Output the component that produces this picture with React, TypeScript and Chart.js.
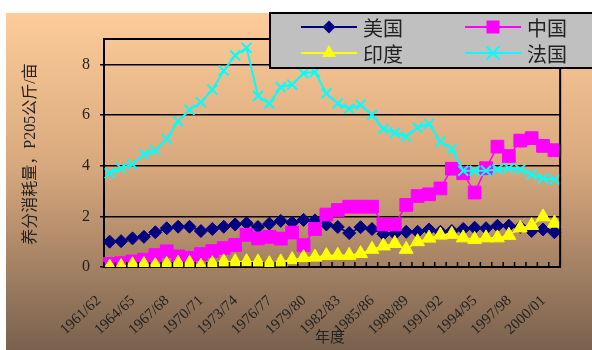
import { useEffect, useRef } from 'react';
import { Chart, registerables } from 'chart.js';

Chart.register(...registerables);

// Crop years on the category axis
const seasons = [
  '1961/62', '1962/63', '1963/64', '1964/65', '1965/66', '1966/67', '1967/68', '1968/69',
  '1969/70', '1970/71', '1971/72', '1972/73', '1973/74', '1974/75', '1975/76', '1976/77',
  '1977/78', '1978/79', '1979/80', '1980/81', '1981/82', '1982/83', '1983/84', '1984/85',
  '1985/86', '1986/87', '1987/88', '1988/89', '1989/90', '1990/91', '1991/92', '1992/93',
  '1993/94', '1994/95', '1995/96', '1996/97', '1997/98', '1998/99', '1999/00', '2000/01',
];

// Phosphate (P2O5) use per mu, by country
const usa = [
  1.0, 1.02, 1.13, 1.19, 1.37, 1.53, 1.59, 1.59, 1.42, 1.5, 1.59, 1.68, 1.73, 1.58, 1.71, 1.82,
  1.75, 1.86, 1.84, 1.68, 1.58, 1.34, 1.57, 1.5, 1.3, 1.31, 1.39, 1.39, 1.48, 1.39, 1.42, 1.5,
  1.55, 1.53, 1.63, 1.63, 1.58, 1.42, 1.48, 1.37,
];
const china = [
  0.12, 0.15, 0.22, 0.29, 0.47, 0.62, 0.42, 0.36, 0.51, 0.63, 0.75, 0.87, 1.27, 1.13, 1.19, 1.12,
  1.36, 0.86, 1.5, 2.07, 2.25, 2.38, 2.38, 2.38, 1.68, 1.68, 2.45, 2.8, 2.87, 3.1, 3.88, 3.7,
  2.94, 3.9, 4.75, 4.38, 4.99, 5.09, 4.78, 4.61,
];
const india = [
  0.0, 0.02, 0.09, 0.1, 0.06, 0.1, 0.15, 0.15, 0.03, 0.13, 0.2, 0.21, 0.21, 0.2, 0.13, 0.2,
  0.29, 0.37, 0.39, 0.45, 0.46, 0.46, 0.53, 0.7, 0.83, 0.93, 0.7, 1.0, 1.14, 1.26, 1.29, 1.15,
  1.09, 1.15, 1.15, 1.25, 1.54, 1.64, 1.98, 1.73,
];
const france = [
  3.7, 3.9, 4.05, 4.45, 4.6, 5.05, 5.75, 6.2, 6.5, 7.0, 7.75, 8.35, 8.65, 6.75, 6.45, 7.1,
  7.2, 7.65, 7.7, 6.85, 6.45, 6.25, 6.4, 6.0, 5.45, 5.3, 5.15, 5.5, 5.65, 4.95, 4.65, 3.8,
  3.8, 3.8, 3.85, 3.9, 3.85, 3.65, 3.5, 3.45,
];

const yTicks = [0, 2, 4, 6, 8];
const yTitle = '养分消耗量，P205公斤/亩';
const xTitle = '年度';

const SERIF = '"Liberation Serif", "Noto Sans CJK SC", serif';
const CJK = '"Noto Sans CJK SC", "Liberation Serif", sans-serif';

const NAVY = '#000080';
const MAGENTA = '#FF00FF';
const YELLOW = '#FFFF00';
const CYAN = '#00FFFF';

type Marker = 'diamond' | 'square' | 'triangle' | 'cross';

function drawMarker(ctx: CanvasRenderingContext2D, kind: Marker, x: number, y: number, color: string) {
  ctx.save();
  ctx.fillStyle = color;
  ctx.strokeStyle = color;
  ctx.beginPath();
  if (kind === 'diamond') {
    const r = 6.5;
    ctx.moveTo(x - r, y);
    ctx.lineTo(x, y - r);
    ctx.lineTo(x + r, y);
    ctx.lineTo(x, y + r);
    ctx.closePath();
    ctx.fill();
  } else if (kind === 'square') {
    const h = 6.5;
    ctx.rect(x - h, y - h, 2 * h, 2 * h);
    ctx.fill();
  } else if (kind === 'triangle') {
    const r = 8;
    ctx.moveTo(x, y - r);
    ctx.lineTo(x + r * 0.866, y + r / 2);
    ctx.lineTo(x - r * 0.866, y + r / 2);
    ctx.closePath();
    ctx.fill();
  } else {
    const r = 6.5;
    ctx.lineWidth = 2;
    ctx.moveTo(x - r, y - r);
    ctx.lineTo(x + r, y + r);
    ctx.moveTo(x + r, y - r);
    ctx.lineTo(x - r, y + r);
    ctx.stroke();
  }
  ctx.restore();
}

const decorations = {
  id: 'decorations',
  beforeDraw(chart: Chart) {
    const { ctx, width, height } = chart;
    ctx.save();
    ctx.fillStyle = '#ffffff';
    ctx.fillRect(0, 0, width, height);
    const g = ctx.createLinearGradient(0, 13, 0, height);
    g.addColorStop(0, '#FDCC99');
    g.addColorStop(0.45, '#D9A97E');
    g.addColorStop(1, '#79614E');
    ctx.fillStyle = g;
    ctx.fillRect(6, 13, width - 6, height - 13);
    ctx.restore();
  },
  afterDraw(chart: Chart) {
    const { ctx, chartArea } = chart;
    const { left, right, top, bottom } = chartArea;
    const xs: any = chart.scales.x;
    ctx.save();

    // plot frame: top and right edges
    ctx.strokeStyle = '#000';
    ctx.lineWidth = 2;
    ctx.beginPath();
    ctx.moveTo(left, top);
    ctx.lineTo(right, top);
    ctx.lineTo(right, bottom);
    ctx.stroke();

    // inward tick marks between categories
    const n = seasons.length;
    const step = xs.getPixelForValue(1) - xs.getPixelForValue(0);
    ctx.lineWidth = 1.5;
    ctx.beginPath();
    for (let i = 0; i <= n; i++) {
      const px = xs.getPixelForValue(0) - step / 2 + i * step;
      ctx.moveTo(px, bottom);
      ctx.lineTo(px, bottom - 5);
    }
    ctx.stroke();

    // axis titles
    ctx.fillStyle = '#222';
    ctx.font = `16px ${SERIF}`;
    ctx.textAlign = 'center';
    ctx.textBaseline = 'middle';
    ctx.save();
    ctx.translate(31, 154);
    ctx.rotate(-Math.PI / 2);
    ctx.fillText(yTitle, 0, 0);
    ctx.restore();
    ctx.font = `15px ${SERIF}`;
    ctx.fillText(xTitle, 330, 338);

    // legend box
    ctx.fillStyle = '#C0C0C0';
    ctx.fillRect(270, 13, 340, 55);
    ctx.strokeStyle = '#000';
    ctx.lineWidth = 2;
    ctx.strokeRect(270, 13, 340, 55);

    const entries: { label: string; color: string; marker: Marker; x: number; y: number }[] = [
      { label: '美国', color: NAVY, marker: 'diamond', x: 301, y: 27 },
      { label: '中国', color: MAGENTA, marker: 'square', x: 465, y: 27 },
      { label: '印度', color: YELLOW, marker: 'triangle', x: 301, y: 53 },
      { label: '法国', color: CYAN, marker: 'cross', x: 465, y: 53 },
    ];
    ctx.font = `20px ${CJK}`;
    ctx.textAlign = 'left';
    for (const e of entries) {
      ctx.strokeStyle = e.color;
      ctx.lineWidth = 2;
      ctx.beginPath();
      ctx.moveTo(e.x, e.y);
      ctx.lineTo(e.x + 56, e.y);
      ctx.stroke();
      drawMarker(ctx, e.marker, e.x + 28, e.y, e.color);
      ctx.fillStyle = '#222';
      ctx.fillText(e.label, e.x + 62, e.y + 1);
    }
    ctx.restore();
  },
};

export default function App() {
  const ref = useRef<HTMLCanvasElement | null>(null);

  useEffect(() => {
    if (!ref.current) return;
    const chart = new Chart(ref.current, {
      type: 'line',
      data: {
        labels: seasons,
        datasets: [
          {
            label: '美国',
            data: usa,
            order: 3,
            borderColor: NAVY,
            backgroundColor: NAVY,
            borderWidth: 1.5,
            pointStyle: 'rectRot',
            pointRadius: 6.5,
            pointBorderWidth: 1,
            pointBackgroundColor: NAVY,
            pointBorderColor: NAVY,
          },
          {
            label: '中国',
            data: china,
            order: 2,
            borderColor: MAGENTA,
            backgroundColor: MAGENTA,
            borderWidth: 1.5,
            pointStyle: 'rect',
            pointRadius: 9,
            pointBorderWidth: 1,
            pointBackgroundColor: MAGENTA,
            pointBorderColor: MAGENTA,
          },
          {
            label: '印度',
            data: india,
            order: 1,
            borderColor: YELLOW,
            backgroundColor: YELLOW,
            borderWidth: 1.5,
            pointStyle: 'triangle',
            pointRadius: 8,
            pointBorderWidth: 1,
            pointBackgroundColor: YELLOW,
            pointBorderColor: YELLOW,
          },
          {
            label: '法国',
            data: france,
            order: 0,
            borderColor: CYAN,
            backgroundColor: CYAN,
            borderWidth: 2,
            pointStyle: 'crossRot',
            pointRadius: 7,
            pointBorderWidth: 2,
            pointBackgroundColor: CYAN,
            pointBorderColor: CYAN,
          },
        ],
      },
      options: {
        animation: false,
        responsive: false,
        devicePixelRatio: 1,
        layout: { padding: { left: 0, top: 39, right: 21, bottom: 0 } },
        plugins: {
          legend: { display: false },
          tooltip: { enabled: false },
        },
        scales: {
          x: {
            type: 'category',
            offset: true,
            grid: { display: false, drawTicks: false },
            border: { display: true, color: '#000', width: 2 },
            ticks: {
              autoSkip: false,
              minRotation: 43,
              maxRotation: 43,
              padding: 25,
              labelOffset: -11,
              color: '#222',
              font: { family: SERIF, size: 15 },
              callback(value: any, index: number) {
                return index % 3 === 0 ? seasons[index] : '';
              },
            },
            afterFit(scale: any) {
              scale.height = 83;
            },
          },
          y: {
            min: 0,
            max: 9,
            grid: { color: '#000', lineWidth: 1.5, tickLength: 4, drawTicks: true },
            border: { display: true, color: '#000', width: 2 },
            ticks: {
              padding: 10,
              color: '#222',
              font: { family: SERIF, size: 16 },
            },
            afterBuildTicks(scale: any) {
              scale.ticks = yTicks.map((v) => ({ value: v }));
            },
            afterFit(scale: any) {
              scale.width = 104;
            },
          },
        },
      },
      plugins: [decorations],
    });
    return () => chart.destroy();
  }, []);

  return (
    <div style={{ position: 'fixed', left: 0, top: 0, width: 592, height: 350 }}>
      <canvas ref={ref} width={592} height={350} style={{ width: 592, height: 350 }} />
    </div>
  );
}
